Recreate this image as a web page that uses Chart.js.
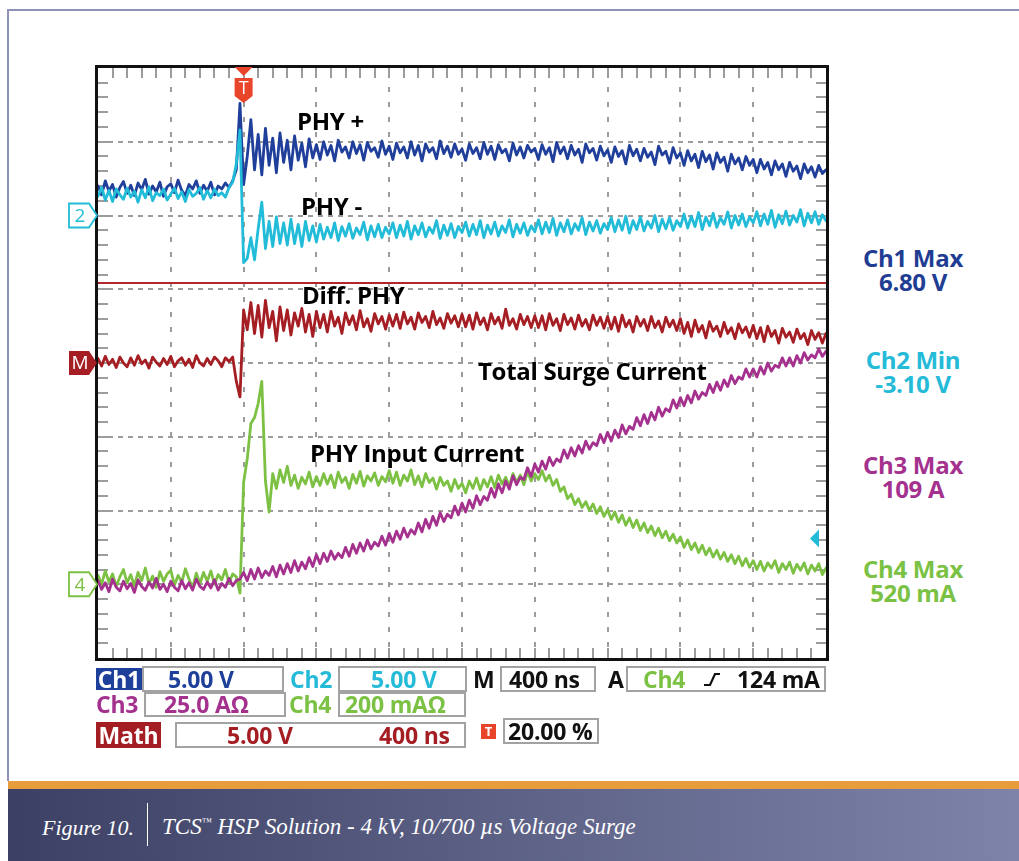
<!DOCTYPE html>
<html>
<head>
<meta charset="utf-8">
<title>TCS HSP Solution - 4 kV, 10/700 µs Voltage Surge</title>
<script src="https://cdn.jsdelivr.net/npm/chart.js@4.4.1/dist/chart.umd.min.js"></script>
<style>
  body { margin: 0; width: 1019px; height: 861px; position: relative; overflow: hidden; background: #fff; font-family: "Open Sans", Lato, sans-serif; }
  .rule-top { position: absolute; left: 8px; top: 9px; width: 1011px; height: 2px; background: #8e92b4; }
  .rule-left { position: absolute; left: 7px; top: 9px; width: 2px; height: 772px; background: #8e92b4; }
  #scope { position: absolute; left: 60px; top: 55px; }

  .lbl { position: absolute; font-weight: 700; font-size: 24px; line-height: 24px; white-space: nowrap; color: #000; letter-spacing: -0.3px; }
  .meas { position: absolute; left: 840px; width: 146px; text-align: center; font-weight: 700; font-size: 24px; line-height: 24px; letter-spacing: -0.3px; }

  .ro { position: absolute; font-weight: 700; font-size: 23px; white-space: nowrap; box-sizing: border-box; letter-spacing: -0.2px; }
  .box { border: 2px solid #a2a2a2; }
  .tag { color: #fff; text-align: center; }
  .r1 { top: 666px; height: 26px; line-height: 22px; }
  .r1.tag, .r1.plain { top: 668px; height: 22px; }
  .r2 { top: 692px; height: 25px; line-height: 21px; }
  .r2.plain { top: 694px; height: 21px; }
  .r3 { top: 722px; height: 26px; line-height: 22px; }

  .footer-band { position: absolute; left: 8px; top: 781px; width: 1011px; height: 8px; background: #e89d3d; }
  .footer { position: absolute; left: 8px; top: 789px; width: 1011px; height: 72px; background: linear-gradient(to right, #3c4064, #7e83a9); }
  .cap { position: absolute; top: 817px; font-family: "Liberation Serif", "DejaVu Serif", serif; font-style: italic; font-size: 22px; line-height: 22px; color: #fff; white-space: nowrap; }
  .cap.title { font-size: 23px; top: 816px; }
  .cap sup { font-size: 10px; vertical-align: 9px; line-height: 0; }
  .cap-sep { position: absolute; left: 147px; top: 803px; width: 1px; height: 43px; background: #fff; }
</style>
</head>
<body>
<div class="rule-top"></div>
<div class="rule-left"></div>

<canvas id="scope" width="780" height="612"></canvas>

<!-- trace names -->
<div class="lbl" style="left:297px; top:109px;">PHY +</div>
<div class="lbl" style="left:301px; top:194px;">PHY -</div>
<div class="lbl" style="left:302px; top:283px;">Diff. PHY</div>
<div class="lbl" style="left:478px; top:359px;">Total Surge Current</div>
<div class="lbl" style="left:310px; top:441px;">PHY Input Current</div>

<!-- measurements -->
<div class="meas" style="top:246px; color:#213d93;">Ch1 Max<br>6.80 V</div>
<div class="meas" style="top:348px; color:#25bbd8;">Ch2 Min<br>-3.10 V</div>
<div class="meas" style="top:453px; color:#a4318e;">Ch3 Max<br>109 A</div>
<div class="meas" style="top:557px; color:#7bc143;">Ch4 Max<br>520 mA</div>

<!-- readout row 1 -->
<div class="ro r1 tag" style="left:96px; width:46px; background:#1e3f9a;">Ch1</div>
<div class="ro r1 box" style="left:142px; width:142px; padding-left:24px; color:#1e3f9a;">5.00 V</div>
<div class="ro r1 plain" style="left:290px; color:#25bbd8;">Ch2</div>
<div class="ro r1 box" style="left:338px; width:129px; padding-left:31px; color:#25bbd8;">5.00 V</div>
<div class="ro r1 plain" style="left:473px; color:#111;">M</div>
<div class="ro r1 box" style="left:500px; width:96px; padding-left:7px; color:#111;">400 ns</div>
<div class="ro r1 plain" style="left:608px; color:#111;">A</div>
<div class="ro r1 box" style="left:626px; width:200px;"></div>
<div class="ro r1 plain" style="left:643px; color:#7bc143;">Ch4</div>
<svg style="position:absolute; left:703px; top:671px;" width="18" height="17" viewBox="0 0 18 17">
  <polyline points="1,14 7,14 12,3 17,3" fill="none" stroke="#111" stroke-width="2.2"/>
</svg>
<div class="ro r1 plain" style="left:737px; color:#111;">124 mA</div>

<!-- readout row 2 -->
<div class="ro r2 plain" style="left:96px; color:#a4318e;">Ch3</div>
<div class="ro r2 box" style="left:144px; width:142px; padding-left:18px; color:#a4318e;">25.0 AΩ</div>
<div class="ro r2 plain" style="left:289px; color:#7bc143;">Ch4</div>
<div class="ro r2 box" style="left:338px; width:128px; padding-left:5px; color:#7bc143;">200 mAΩ</div>

<!-- readout row 3 -->
<div class="ro r3 tag" style="left:96px; width:65px; background:#a31d22; line-height:26px;">Math</div>
<div class="ro r3 box" style="left:175px; width:291px;"></div>
<div class="ro r3" style="left:227px; line-height:26px; color:#a31d22;">5.00 V</div>
<div class="ro r3" style="left:379px; line-height:26px; color:#a31d22;">400 ns</div>
<div class="ro" style="left:481px; top:724px; width:15px; height:15px; background:#e8452b; color:#fff; font-size:13px; line-height:15px; text-align:center;">T</div>
<div class="ro box" style="left:503px; top:718px; width:96px; height:26px; line-height:22px; padding-left:3px; color:#111;">20.00 %</div>

<!-- caption -->
<div class="footer-band"></div>
<div class="footer"></div>
<div class="cap" style="left:42px;">Figure 10.</div>
<div class="cap-sep"></div>
<div class="cap title" style="left:162px;">TCS<sup>™</sup> HSP Solution - 4 kV, 10/700 µs Voltage Surge</div>

<script>
// record: 201 samples, 20 ns apart, trigger at 0 ns (20 % of the 4 µs window)
const START_NS = -800;
const SAMPLE_NS = 20;
const NS_PER_DIV = 400;
const END_NS = 3200;

// screen position of each trace in graticule divisions (0 = centre line)
const ch1Div = [
  2.40, 2.28, 2.47, 2.33, 2.42, 2.25, 2.38, 2.46, 2.30, 2.41,
  2.27, 2.44, 2.35, 2.49, 2.29, 2.40, 2.32, 2.45, 2.26, 2.39,
  2.43, 2.31, 2.48, 2.34, 2.27, 2.42, 2.36, 2.47, 2.30, 2.41,
  2.33, 2.45, 2.28, 2.40, 2.36, 2.44, 2.38, 2.47, 2.62, 3.52,
  2.42, 2.80, 3.30, 2.62, 3.10, 2.55, 3.18, 2.68, 3.05, 2.58,
  3.12, 2.72, 3.02, 2.62, 3.08, 2.75, 2.98, 2.66, 3.04, 2.78,
  2.96, 2.76, 3.00, 2.82, 2.95, 2.74, 3.02, 2.86, 2.93, 2.78,
  3.00, 2.84, 2.96, 2.75, 2.99, 2.87, 2.92, 2.79, 3.01, 2.83,
  2.94, 2.76, 2.98, 2.85, 2.93, 2.78, 3.00, 2.82, 2.95, 2.74,
  2.97, 2.86, 2.92, 2.77, 3.01, 2.84, 2.94, 2.79, 2.97, 2.83,
  2.90, 2.75, 2.97, 2.84, 2.92, 2.77, 2.99, 2.83, 2.94, 2.76,
  2.96, 2.85, 2.90, 2.74, 2.98, 2.82, 2.93, 2.78, 2.95, 2.86,
  2.91, 2.76, 2.96, 2.83, 2.92, 2.73, 2.99, 2.84, 2.93, 2.77,
  2.95, 2.82, 2.90, 2.72, 2.97, 2.85, 2.91, 2.75, 2.94, 2.81,
  2.89, 2.72, 2.93, 2.80, 2.88, 2.70, 2.95, 2.81, 2.90, 2.74,
  2.91, 2.79, 2.86, 2.69, 2.94, 2.82, 2.87, 2.71, 2.92, 2.78,
  2.85, 2.68, 2.88, 2.74, 2.83, 2.65, 2.87, 2.73, 2.82, 2.63,
  2.85, 2.72, 2.79, 2.60, 2.83, 2.70, 2.78, 2.62, 2.80, 2.68,
  2.76, 2.58, 2.76, 2.63, 2.72, 2.55, 2.74, 2.62, 2.70, 2.53,
  2.72, 2.60, 2.67, 2.50, 2.70, 2.58, 2.66, 2.52, 2.68, 2.57,
  2.62
];

const ch2Div = [
  2.26, 2.38, 2.21, 2.34, 2.19, 2.36, 2.28, 2.22, 2.37, 2.25,
  2.33, 2.18, 2.35, 2.24, 2.39, 2.20, 2.31, 2.27, 2.36, 2.21,
  2.29, 2.37, 2.23, 2.32, 2.19, 2.35, 2.26, 2.30, 2.38, 2.22,
  2.34, 2.24, 2.36, 2.27, 2.31, 2.25, 2.38, 2.45, 2.70, 3.16,
  1.36, 1.42, 1.70, 1.40, 1.82, 2.18, 1.55, 1.92, 1.58, 1.98,
  1.62, 1.90, 1.60, 1.95, 1.62, 1.88, 1.58, 1.92, 1.66, 1.86,
  1.64, 1.88, 1.68, 1.84, 1.70, 1.90, 1.66, 1.85, 1.72, 1.89,
  1.69, 1.83, 1.74, 1.91, 1.67, 1.86, 1.71, 1.88, 1.70, 1.84,
  1.75, 1.90, 1.70, 1.87, 1.72, 1.92, 1.68, 1.86, 1.74, 1.90,
  1.71, 1.84, 1.76, 1.93, 1.69, 1.87, 1.73, 1.89, 1.70, 1.85,
  1.77, 1.91, 1.72, 1.88, 1.74, 1.93, 1.70, 1.87, 1.75, 1.91,
  1.72, 1.86, 1.77, 1.94, 1.71, 1.88, 1.76, 1.90, 1.73, 1.86,
  1.78, 1.94, 1.75, 1.91, 1.77, 1.96, 1.73, 1.90, 1.78, 1.94,
  1.75, 1.89, 1.80, 1.97, 1.74, 1.91, 1.79, 1.93, 1.76, 1.89,
  1.81, 1.97, 1.78, 1.94, 1.80, 1.99, 1.76, 1.93, 1.81, 1.98,
  1.79, 1.92, 1.83, 2.00, 1.78, 1.95, 1.82, 1.97, 1.80, 1.93,
  1.85, 2.02, 1.83, 1.99, 1.85, 2.04, 1.81, 1.98, 1.86, 2.03,
  1.84, 1.97, 1.88, 2.05, 1.83, 2.00, 1.87, 2.02, 1.85, 1.98,
  1.90, 2.05, 1.86, 2.02, 1.88, 2.07, 1.84, 2.01, 1.89, 2.06,
  1.87, 2.00, 1.91, 2.08, 1.86, 2.03, 1.90, 2.05, 1.88, 2.01,
  1.93
];

const mathDiv = [
  0.06, -0.04, 0.09, -0.02, 0.05, -0.06, 0.08, 0.00, -0.05, 0.07,
  -0.03, 0.10, -0.01, 0.04, -0.07, 0.08, 0.01, -0.04, 0.06, -0.02,
  0.09, -0.05, 0.03, 0.07, -0.03, 0.05, -0.06, 0.10, 0.00, -0.04,
  0.06, -0.02, 0.08, 0.03, -0.05, 0.07, 0.02, 0.08, -0.25, -0.46,
  0.72, 0.45, 0.82, 0.40, 0.78, 0.35, 0.85, 0.48, 0.70, 0.30,
  0.76, 0.44, 0.72, 0.38, 0.68, 0.50, 0.74, 0.42, 0.66, 0.36,
  0.70, 0.48, 0.66, 0.42, 0.70, 0.50, 0.62, 0.40, 0.68, 0.52,
  0.64, 0.45, 0.71, 0.49, 0.60, 0.43, 0.67, 0.53, 0.63, 0.46,
  0.65, 0.50, 0.66, 0.47, 0.69, 0.53, 0.62, 0.46, 0.68, 0.55,
  0.63, 0.48, 0.70, 0.52, 0.61, 0.47, 0.67, 0.54, 0.64, 0.49,
  0.66, 0.49, 0.65, 0.46, 0.68, 0.52, 0.61, 0.45, 0.67, 0.53,
  0.62, 0.47, 0.73, 0.51, 0.60, 0.46, 0.66, 0.52, 0.63, 0.48,
  0.64, 0.48, 0.64, 0.45, 0.67, 0.51, 0.60, 0.44, 0.66, 0.52,
  0.61, 0.46, 0.65, 0.50, 0.59, 0.45, 0.65, 0.51, 0.62, 0.47,
  0.63, 0.46, 0.62, 0.43, 0.65, 0.49, 0.58, 0.42, 0.63, 0.50,
  0.59, 0.44, 0.63, 0.48, 0.57, 0.42, 0.62, 0.49, 0.58, 0.44,
  0.60, 0.40, 0.55, 0.36, 0.58, 0.42, 0.51, 0.34, 0.56, 0.43,
  0.50, 0.36, 0.55, 0.40, 0.48, 0.33, 0.53, 0.41, 0.49, 0.35,
  0.51, 0.33, 0.48, 0.29, 0.50, 0.36, 0.44, 0.27, 0.47, 0.35,
  0.42, 0.28, 0.46, 0.33, 0.40, 0.25, 0.44, 0.32, 0.41, 0.27,
  0.40
];

const ch3Div = [
  -2.95, -3.07, -2.98, -3.10, -2.93, -3.04, -3.09, -2.96, -3.06, -2.99,
  -3.11, -2.94, -3.03, -3.08, -2.97, -3.05, -2.92, -3.07, -3.00, -3.10,
  -2.96, -3.04, -3.09, -2.95, -3.06, -2.98, -3.08, -2.93, -3.03, -3.07,
  -2.97, -3.05, -2.94, -3.08, -2.99, -3.04, -2.92, -3.02, -2.95, -2.93,
  -2.84, -2.95, -2.80, -2.93, -2.78, -2.91, -2.82, -2.88, -2.76, -2.90,
  -2.74, -2.86, -2.72, -2.84, -2.68, -2.82, -2.70, -2.79, -2.64, -2.76,
  -2.60, -2.72, -2.58, -2.69, -2.55, -2.66, -2.58, -2.64, -2.50, -2.62,
  -2.46, -2.58, -2.44, -2.55, -2.40, -2.52, -2.43, -2.48, -2.35, -2.47,
  -2.31, -2.43, -2.28, -2.39, -2.24, -2.36, -2.26, -2.32, -2.17, -2.29,
  -2.12, -2.24, -2.08, -2.20, -2.03, -2.15, -2.05, -2.10, -1.94, -2.06,
  -1.90, -2.02, -1.86, -1.97, -1.80, -1.92, -1.81, -1.86, -1.70, -1.82,
  -1.64, -1.76, -1.60, -1.71, -1.53, -1.65, -1.55, -1.58, -1.42, -1.54,
  -1.37, -1.48, -1.33, -1.44, -1.28, -1.39, -1.30, -1.34, -1.18, -1.29,
  -1.15, -1.26, -1.12, -1.22, -1.06, -1.17, -1.08, -1.12, -0.97, -1.08,
  -0.94, -1.06, -0.91, -1.01, -0.84, -0.96, -0.86, -0.90, -0.74, -0.85,
  -0.70, -0.82, -0.67, -0.77, -0.60, -0.72, -0.62, -0.66, -0.50, -0.61,
  -0.47, -0.58, -0.44, -0.54, -0.38, -0.49, -0.40, -0.44, -0.29, -0.40,
  -0.26, -0.37, -0.23, -0.32, -0.17, -0.28, -0.19, -0.22, -0.08, -0.19,
  -0.08, -0.19, -0.05, -0.15, 0.00, -0.11, -0.03, -0.06, 0.07, -0.04,
  0.07, -0.04, 0.10, 0.00, 0.14, 0.04, 0.11, 0.07, 0.19, 0.09,
  0.16
];

const ch4Div = [
  -2.88, -3.00, -2.82, -2.97, -2.86, -3.03, -2.90, -2.80, -2.98, -2.87,
  -3.02, -2.84, -2.95, -2.78, -2.99, -2.89, -3.04, -2.83, -2.96, -2.86,
  -2.81, -3.01, -2.88, -2.97, -2.79, -2.93, -3.05, -2.85, -2.99, -2.84,
  -2.96, -2.82, -3.00, -2.87, -2.94, -2.80, -2.98, -2.86, -2.90, -3.12,
  -1.62, -1.30, -0.82, -0.74, -0.55, -0.25, -1.60, -2.02, -1.50, -1.70,
  -1.45, -1.62, -1.40, -1.66, -1.52, -1.70, -1.55, -1.64, -1.48, -1.68,
  -1.54, -1.66, -1.50, -1.64, -1.52, -1.69, -1.48, -1.62, -1.55, -1.70,
  -1.51, -1.63, -1.47, -1.67, -1.53, -1.60, -1.49, -1.66, -1.54, -1.61,
  -1.46, -1.63, -1.48, -1.66, -1.52, -1.60, -1.45, -1.65, -1.53, -1.68,
  -1.50, -1.62, -1.56, -1.71, -1.55, -1.66, -1.60, -1.74, -1.58, -1.70,
  -1.63, -1.76, -1.60, -1.70, -1.56, -1.72, -1.58, -1.68, -1.54, -1.69,
  -1.52, -1.64, -1.55, -1.67, -1.50, -1.62, -1.52, -1.65, -1.47, -1.60,
  -1.50, -1.58, -1.46, -1.60, -1.52, -1.66, -1.58, -1.74, -1.68, -1.84,
  -1.78, -1.92, -1.84, -1.96, -1.88, -2.00, -1.91, -2.04, -1.95, -2.08,
  -1.99, -2.12, -2.02, -2.16, -2.06, -2.20, -2.10, -2.23, -2.13, -2.27,
  -2.17, -2.30, -2.21, -2.34, -2.24, -2.37, -2.28, -2.41, -2.32, -2.44,
  -2.36, -2.50, -2.40, -2.53, -2.44, -2.57, -2.47, -2.60, -2.51, -2.63,
  -2.54, -2.66, -2.57, -2.69, -2.60, -2.72, -2.62, -2.75, -2.65, -2.77,
  -2.68, -2.80, -2.69, -2.82, -2.71, -2.78, -2.68, -2.84, -2.72, -2.80,
  -2.70, -2.85, -2.73, -2.81, -2.71, -2.86, -2.74, -2.82, -2.72, -2.87,
  -2.78
];

// channel ground markers and trigger settings, in divisions
const CH2_GROUND_DIV = 2;
const MATH_GROUND_DIV = 0;
const CH4_GROUND_DIV = -3;
const CH4_MA_PER_DIV = 200;
const TRIGGER_LEVEL_MA = 124;
const REF_LINE_DIV = 1.085;

const COLORS = {
  ch1: '#1f3f9b',
  ch2: '#22bcd9',
  ch3: '#a5318f',
  ch4: '#7cc143',
  math: '#a51e23',
  trig: '#e8452b'
};

function toPoints(values) {
  return values.map((v, i) => ({ x: START_NS + i * SAMPLE_NS, y: v }));
}

function channelMarker(ctx, xTip, yc, text, color, filled) {
  const left = xTip - 28, body = xTip - 8, half = 12;
  ctx.beginPath();
  ctx.moveTo(left, yc - half);
  ctx.lineTo(body, yc - half);
  ctx.lineTo(xTip, yc);
  ctx.lineTo(body, yc + half);
  ctx.lineTo(left, yc + half);
  ctx.closePath();
  if (filled) {
    ctx.fillStyle = color;
    ctx.fill();
  } else {
    ctx.fillStyle = '#fff';
    ctx.fill();
    ctx.strokeStyle = color;
    ctx.lineWidth = 1.8;
    ctx.stroke();
  }
  ctx.fillStyle = filled ? '#fff' : color;
  ctx.font = '19px "Open Sans", sans-serif';
  ctx.textAlign = 'center';
  ctx.textBaseline = 'middle';
  ctx.fillText(text, left + 11, yc + 1);
}

const graticule = {
  id: 'graticule',
  beforeDatasetsDraw(chart) {
    const { ctx, chartArea: a, scales: { x, y } } = chart;
    ctx.save();
    ctx.strokeStyle = '#9c9c9c';
    ctx.lineWidth = 2;

    // dashed division lines
    ctx.setLineDash([5, 10]);
    for (let t = START_NS + NS_PER_DIV; t < END_NS; t += NS_PER_DIV) {
      const px = Math.round(x.getPixelForValue(t));
      ctx.beginPath();
      ctx.moveTo(px, a.top + 4);
      ctx.lineTo(px, a.bottom);
      ctx.stroke();
    }
    ctx.setLineDash([5, 5]);
    for (let d = -3; d <= 3; d++) {
      const py = Math.round(y.getPixelForValue(d));
      ctx.beginPath();
      ctx.moveTo(a.left, py);
      ctx.lineTo(a.right, py);
      ctx.stroke();
    }

    // minor ticks along the frame, five per division
    ctx.setLineDash([]);
    for (let k = 1; k < 50; k++) {
      const px = Math.round(x.getPixelForValue(START_NS + k * NS_PER_DIV / 5));
      ctx.beginPath();
      ctx.moveTo(px, a.top);
      ctx.lineTo(px, a.top + 10);
      ctx.moveTo(px, a.bottom);
      ctx.lineTo(px, a.bottom - 10);
      ctx.stroke();
    }
    for (let k = 1; k < 40; k++) {
      const py = Math.round(y.getPixelForValue(-4 + k * 0.2));
      ctx.beginPath();
      ctx.moveTo(a.left, py);
      ctx.lineTo(a.left + 10, py);
      ctx.moveTo(a.right, py);
      ctx.lineTo(a.right - 10, py);
      ctx.stroke();
    }
    ctx.restore();
  },
  afterDatasetsDraw(chart) {
    const { ctx, chartArea: a, scales: { x, y } } = chart;
    ctx.save();

    // reference line
    const ry = y.getPixelForValue(REF_LINE_DIV);
    ctx.strokeStyle = '#b3262b';
    ctx.lineWidth = 2;
    ctx.beginPath();
    ctx.moveTo(a.left - 2, ry);
    ctx.lineTo(a.right + 1, ry);
    ctx.stroke();

    // frame
    ctx.strokeStyle = '#111';
    ctx.lineWidth = 3;
    ctx.strokeRect(a.left - 1.5, a.top - 1.5, a.right - a.left + 3, a.bottom - a.top + 3);

    // ground markers on the left edge
    const tip = a.left - 1;
    channelMarker(ctx, tip, y.getPixelForValue(CH2_GROUND_DIV), '2', COLORS.ch2, false);
    channelMarker(ctx, tip, y.getPixelForValue(MATH_GROUND_DIV), 'M', COLORS.math, true);
    channelMarker(ctx, tip, y.getPixelForValue(CH4_GROUND_DIV), '4', COLORS.ch4, false);

    // trigger position marker
    const tx = x.getPixelForValue(0);
    ctx.fillStyle = COLORS.trig;
    ctx.beginPath();
    ctx.moveTo(tx - 9, a.top - 1);
    ctx.lineTo(tx + 9, a.top - 1);
    ctx.lineTo(tx, a.top + 8);
    ctx.closePath();
    ctx.fill();
    ctx.beginPath();
    ctx.moveTo(tx - 9, a.top + 10);
    ctx.lineTo(tx + 9, a.top + 10);
    ctx.lineTo(tx + 9, a.top + 28);
    ctx.lineTo(tx, a.top + 35);
    ctx.lineTo(tx - 9, a.top + 28);
    ctx.closePath();
    ctx.fill();
    ctx.fillStyle = '#fff';
    ctx.font = '18px "Open Sans", sans-serif';
    ctx.textAlign = 'center';
    ctx.textBaseline = 'middle';
    ctx.fillText('T', tx, a.top + 21);

    // trigger level marker
    const ly = y.getPixelForValue(CH4_GROUND_DIV + TRIGGER_LEVEL_MA / CH4_MA_PER_DIV);
    ctx.fillStyle = COLORS.ch2;
    ctx.beginPath();
    ctx.moveTo(a.right - 16, ly);
    ctx.lineTo(a.right - 7, ly - 9);
    ctx.lineTo(a.right - 7, ly + 9);
    ctx.closePath();
    ctx.fill();

    ctx.restore();
  }
};

const trace = (label, values, color, order) => ({
  label,
  data: toPoints(values),
  borderColor: color,
  borderWidth: 2.8,
  borderJoinStyle: 'round',
  borderCapStyle: 'round',
  pointRadius: 0,
  tension: 0,
  order
});

new Chart(document.getElementById('scope'), {
  type: 'line',
  data: {
    datasets: [
      trace('Ch1 PHY +', ch1Div, COLORS.ch1, 5),
      trace('Ch2 PHY -', ch2Div, COLORS.ch2, 4),
      trace('Ch4 PHY input current', ch4Div, COLORS.ch4, 3),
      trace('Ch3 total surge current', ch3Div, COLORS.ch3, 2),
      trace('Math diff. PHY', mathDiv, COLORS.math, 1)
    ]
  },
  options: {
    responsive: false,
    devicePixelRatio: 1,
    animation: false,
    layout: { padding: { left: 38, top: 13, right: 14, bottom: 9 } },
    scales: {
      x: { type: 'linear', min: START_NS, max: END_NS, display: false },
      y: { type: 'linear', min: -4, max: 4, display: false }
    },
    plugins: {
      legend: { display: false },
      tooltip: { enabled: false }
    }
  },
  plugins: [graticule]
});
</script>
</body>
</html>
